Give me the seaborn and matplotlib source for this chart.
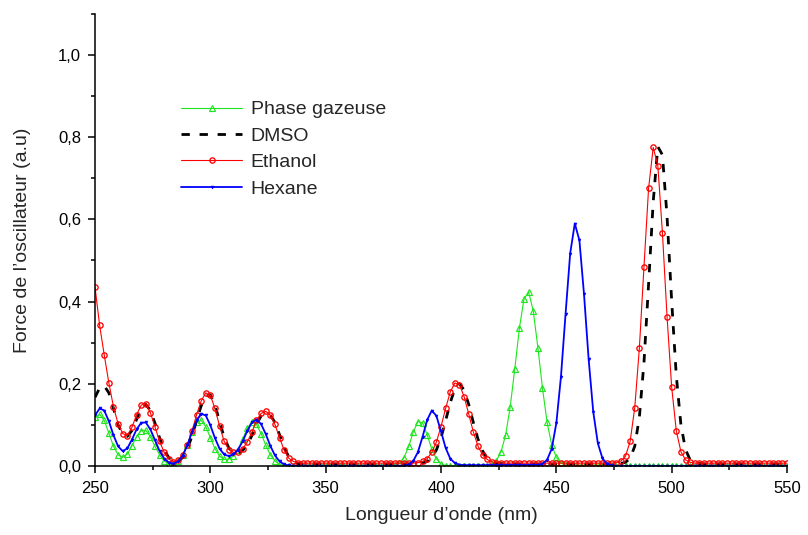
import numpy as np
import matplotlib
matplotlib.use("Agg")
import matplotlib.pyplot as plt
import seaborn as sns

# ---------------- data (2 nm sampling) ----------------
wavelength = np.arange(250, 551, 2)

phase_gazeuse = [
    0.118, 0.126, 0.111, 0.080, 0.048, 0.027, 0.021, 0.029, 0.049, 0.071,   # 250-268
    0.086, 0.087, 0.071, 0.048, 0.027, 0.012, 0.005, 0.004, 0.011, 0.027,   # 270-288
    0.052, 0.082, 0.106, 0.111, 0.096, 0.069, 0.042, 0.024, 0.016, 0.017,   # 290-308
    0.024, 0.039, 0.065, 0.092, 0.106, 0.101, 0.079, 0.051, 0.027, 0.012,   # 310-328
    0.004, 0.001, 0.0, 0.0, 0.0, 0.0, 0.0, 0.0, 0.0, 0.0,                   # 330-348
    0.0, 0.0, 0.0, 0.0, 0.0, 0.0, 0.0, 0.0, 0.0, 0.0,                       # 350-368
    0.0, 0.0, 0.0, 0.0, 0.0003, 0.0016, 0.0065, 0.0205, 0.048, 0.083,       # 370-388
    0.108, 0.105, 0.076, 0.041, 0.017, 0.005, 0.001, 0.0, 0.0, 0.0,         # 390-408
    0.0, 0.0, 0.0, 0.0, 0.0003, 0.001, 0.004, 0.013, 0.034, 0.075,          # 410-428
    0.144, 0.237, 0.336, 0.407, 0.423, 0.377, 0.288, 0.189, 0.106, 0.051,   # 430-448
    0.021, 0.0075, 0.002, 0.0006, 0.0, 0.0, 0.0, 0.0, 0.0, 0.0,             # 450-468
    0.0, 0.0, 0.0, 0.0, 0.0, 0.0, 0.0, 0.0, 0.0, 0.0,                       # 470-488
    0.0, 0.0, 0.0, 0.0, 0.0, 0.0, 0.0, 0.0, 0.0, 0.0,                       # 490-508
    0.0, 0.0, 0.0, 0.0, 0.0, 0.0, 0.0, 0.0, 0.0, 0.0,                       # 510-528
    0.0, 0.0, 0.0, 0.0, 0.0, 0.0, 0.0, 0.0, 0.0, 0.0,                       # 530-548
    0.0,                                                                    # 550
]

dmso = [
    0.167, 0.190, 0.195, 0.178, 0.140, 0.100, 0.077, 0.072, 0.086, 0.113,
    0.139, 0.150, 0.135, 0.104, 0.068, 0.039, 0.020, 0.010, 0.010, 0.021,
    0.041, 0.072, 0.110, 0.146, 0.170, 0.173, 0.148, 0.108, 0.069, 0.044,
    0.032, 0.032, 0.038, 0.051, 0.074, 0.101, 0.122, 0.128, 0.124, 0.106,
    0.076, 0.045, 0.022, 0.011, 0.006, 0.005, 0.005, 0.005, 0.005, 0.005,
    0.005, 0.005, 0.005, 0.005, 0.005, 0.005, 0.005, 0.005, 0.005, 0.005,
    0.005, 0.005, 0.005, 0.005, 0.005, 0.005, 0.005, 0.005, 0.005, 0.005,
    0.006, 0.007, 0.011, 0.021, 0.039, 0.069, 0.110, 0.154, 0.188, 0.200,
    0.185, 0.150, 0.106, 0.066, 0.037, 0.019, 0.011, 0.007, 0.006, 0.005,
    0.005, 0.005, 0.005, 0.005, 0.005, 0.005, 0.005, 0.005, 0.005, 0.005,
    0.005, 0.005, 0.005, 0.005, 0.005, 0.005, 0.005, 0.005, 0.005, 0.005,
    0.005, 0.005, 0.005, 0.005, 0.006, 0.009, 0.019, 0.048, 0.119, 0.252,
    0.443, 0.643, 0.777, 0.757, 0.607, 0.402, 0.220, 0.101, 0.040, 0.015,
    0.008, 0.006, 0.005, 0.005, 0.005, 0.005, 0.005, 0.005, 0.005, 0.005,
    0.005, 0.005, 0.005, 0.005, 0.005, 0.005, 0.005, 0.005, 0.005, 0.005,
    0.005,
]

ethanol = [
    0.435, 0.342, 0.270, 0.202, 0.144, 0.103, 0.079, 0.074, 0.094, 0.124,
    0.148, 0.152, 0.130, 0.095, 0.060, 0.033, 0.017, 0.010, 0.014, 0.027,
    0.050, 0.084, 0.124, 0.158, 0.178, 0.172, 0.140, 0.097, 0.060, 0.040,
    0.033, 0.035, 0.042, 0.058, 0.082, 0.111, 0.128, 0.133, 0.124, 0.101,
    0.069, 0.038, 0.019, 0.011, 0.008, 0.007, 0.007, 0.007, 0.007, 0.007,
    0.007, 0.007, 0.007, 0.007, 0.007, 0.007, 0.007, 0.007, 0.007, 0.007,
    0.007, 0.007, 0.007, 0.007, 0.007, 0.007, 0.007, 0.007, 0.007, 0.007,
    0.008, 0.011, 0.018, 0.033, 0.058, 0.096, 0.140, 0.180, 0.202, 0.198,
    0.169, 0.127, 0.083, 0.049, 0.027, 0.016, 0.010, 0.008, 0.007, 0.007,
    0.007, 0.007, 0.007, 0.007, 0.007, 0.007, 0.007, 0.007, 0.007, 0.007,
    0.007, 0.007, 0.007, 0.007, 0.007, 0.007, 0.007, 0.007, 0.007, 0.007,
    0.007, 0.007, 0.007, 0.008, 0.012, 0.024, 0.060, 0.142, 0.287, 0.485,
    0.676, 0.775, 0.731, 0.567, 0.363, 0.192, 0.086, 0.035, 0.015, 0.009,
    0.007, 0.007, 0.007, 0.007, 0.007, 0.007, 0.007, 0.007, 0.007, 0.007,
    0.007, 0.007, 0.007, 0.007, 0.007, 0.007, 0.007, 0.007, 0.007, 0.007,
    0.007,
]

hexane = [
    0.123, 0.140, 0.135, 0.109, 0.075, 0.048, 0.036, 0.043, 0.064, 0.089,
    0.105, 0.106, 0.089, 0.063, 0.036, 0.018, 0.008, 0.006, 0.011, 0.025,
    0.050, 0.082, 0.111, 0.127, 0.123, 0.099, 0.068, 0.042, 0.028, 0.024,
    0.028, 0.040, 0.060, 0.085, 0.106, 0.113, 0.102, 0.078, 0.049, 0.026,
    0.011, 0.004, 0.0013, 0.0003, 0.0, 0.0, 0.0, 0.0, 0.0, 0.0,
    0.0, 0.0, 0.0, 0.0, 0.0, 0.0, 0.0, 0.0, 0.0, 0.0,
    0.0, 0.0, 0.0, 0.0, 0.0, 0.0, 0.0, 0.0007, 0.0034, 0.0125,
    0.034, 0.071, 0.112, 0.135, 0.122, 0.084, 0.044, 0.018, 0.007, 0.003,
    0.002, 0.002, 0.002, 0.002, 0.002, 0.002, 0.002, 0.002, 0.002, 0.002,
    0.002, 0.002, 0.002, 0.002, 0.002, 0.002, 0.0027, 0.0054, 0.015, 0.042,
    0.104, 0.217, 0.370, 0.517, 0.590, 0.549, 0.418, 0.260, 0.132, 0.055,
    0.0186, 0.0052, 0.0012, 0.0002, 0.0, 0.0, 0.0, 0.0, 0.0, 0.0,
    0.0, 0.0, 0.0, 0.0, 0.0, 0.0, 0.0, 0.0, 0.0, 0.0,
    0.0, 0.0, 0.0, 0.0, 0.0, 0.0, 0.0, 0.0, 0.0, 0.0,
    0.0, 0.0, 0.0, 0.0, 0.0, 0.0, 0.0, 0.0, 0.0, 0.0,
    0.0,
]

series_labels = ["Phase gazeuse", "DMSO", "Ethanol", "Hexane"]
x_ticks = [250, 300, 350, 400, 450, 500, 550]
y_ticks = [0.0, 0.2, 0.4, 0.6, 0.8, 1.0]
y_tick_labels = ["0,0", "0,2", "0,4", "0,6", "0,8", "1,0"]
x_label = "Longueur d\u2019onde (nm)"
y_label = "Force de l\u2019oscillateur (a.u)"

# ---------------- style ----------------
sns.set_style("ticks")
plt.rcParams["font.family"] = ["Liberation Sans", "DejaVu Sans"]
plt.rcParams["axes.linewidth"] = 1.1

fig = plt.figure(figsize=(8.08, 5.35), dpi=100)
ax = fig.add_axes([0.1176, 0.129, 0.8564, 0.845])

green = "#1ee61e"

sns.lineplot(x=wavelength, y=phase_gazeuse, ax=ax, color=green, lw=0.8,
             marker="^", markersize=3.8, markerfacecolor="none",
             markeredgecolor=green, markeredgewidth=0.85,
             label=series_labels[0], sort=False, errorbar=None)
sns.lineplot(x=wavelength, y=dmso, ax=ax, color="black", lw=2.0,
             label=series_labels[1], sort=False, errorbar=None)
ax.lines[-1].set_dashes([3, 3.5])
sns.lineplot(x=wavelength, y=ethanol, ax=ax, color="#ff0000", lw=0.8,
             marker="o", markersize=3.8, markerfacecolor="none",
             markeredgecolor="#ff0000", markeredgewidth=0.95,
             label=series_labels[2], sort=False, errorbar=None)
sns.lineplot(x=wavelength, y=hexane, ax=ax, color="#0000ff", lw=1.3,
             marker="v", markersize=2.0, markerfacecolor="#0000ff",
             markeredgecolor="#0000ff", markeredgewidth=0.5,
             label=series_labels[3], sort=False, errorbar=None)

ax.set_xlim(250, 550)
ax.set_ylim(0, 1.1)
ax.set_xticks(x_ticks)
ax.set_xticks([275, 325, 375, 425, 475, 525], minor=True)
ax.set_yticks(y_ticks)
ax.set_yticklabels(y_tick_labels)
ax.set_yticks([0.1, 0.3, 0.5, 0.7, 0.9, 1.1], minor=True)
ax.tick_params(axis="both", which="major", direction="out", length=5,
               width=1.1, labelsize=12, color="black", labelcolor="black")
ax.tick_params(axis="both", which="minor", direction="out", length=3,
               width=1.1, color="black")
ax.tick_params(axis="x", which="major", pad=6)
ax.tick_params(axis="y", which="major", pad=5)
sns.despine(ax=ax)
for s in ("left", "bottom"):
    ax.spines[s].set_color("black")

ax.set_xlabel(x_label, fontsize=14, labelpad=8)
ax.set_ylabel(y_label, fontsize=14, labelpad=19.5)

handles, labels = ax.get_legend_handles_labels()
leg = ax.legend(handles, labels, loc="upper left",
                bbox_to_anchor=(0.215, 0.826), bbox_transform=fig.transFigure,
                frameon=False, fontsize=14, handlelength=3.1,
                handletextpad=0.45, labelspacing=0.45, borderpad=0.4,
                borderaxespad=0, numpoints=1)

fig.savefig("out.png", dpi=100)
